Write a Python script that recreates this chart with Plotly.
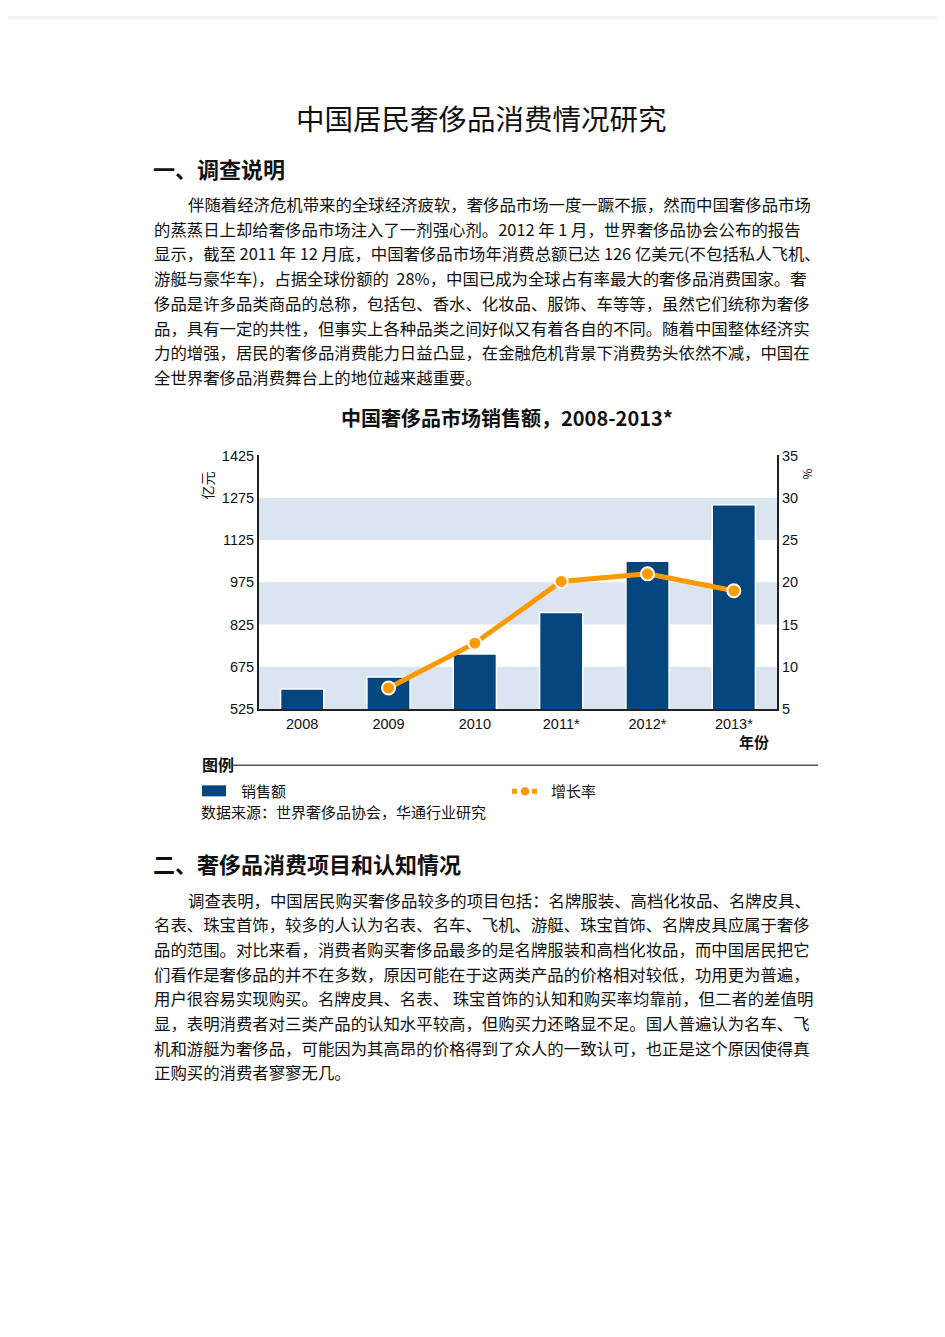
import plotly.graph_objects as go

# page body margin of the browser is 8px, so the figure is drawn inside it
OFF = 8
W, H = 945 - 2 * OFF, 1337 - 2 * OFF

# chart data
years = ["2008", "2009", "2010", "2011*", "2012*", "2013*"]
sales = [596, 639, 721, 868, 1050, 1250]
growth = [None, 7.5, 12.8, 20.1, 21.0, 19.0]
left_ticks = [525, 675, 825, 975, 1125, 1275, 1425]
right_ticks = [5, 10, 15, 20, 25, 30, 35]

page_title = "中国居民奢侈品消费情况研究"
heading1 = "一、调查说明"
para1 = [
    "伴随着经济危机带来的全球经济疲软，奢侈品市场一度一蹶不振，然而中国奢侈品市场",
    "的蒸蒸日上却给奢侈品市场注入了一剂强心剂。2012 年 1 月，世界奢侈品协会公布的报告",
    "显示，截至 2011 年 12 月底，中国奢侈品市场年消费总额已达 126 亿美元(不包括私人飞机、",
    "游艇与豪华车)，占据全球份额的  28%，中国已成为全球占有率最大的奢侈品消费国家。奢",
    "侈品是许多品类商品的总称，包括包、香水、化妆品、服饰、车等等，虽然它们统称为奢侈",
    "品，具有一定的共性，但事实上各种品类之间好似又有着各自的不同。随着中国整体经济实",
    "力的增强，居民的奢侈品消费能力日益凸显，在金融危机背景下消费势头依然不减，中国在",
    "全世界奢侈品消费舞台上的地位越来越重要。",
]
heading2 = "二、奢侈品消费项目和认知情况"
para2 = [
    "调查表明，中国居民购买奢侈品较多的项目包括：名牌服装、高档化妆品、名牌皮具、",
    "名表、珠宝首饰，较多的人认为名表、名车、飞机、游艇、珠宝首饰、名牌皮具应属于奢侈",
    "品的范围。对比来看，消费者购买奢侈品最多的是名牌服装和高档化妆品，而中国居民把它",
    "们看作是奢侈品的并不在多数，原因可能在于这两类产品的价格相对较低，功用更为普遍，",
    "用户很容易实现购买。名牌皮具、名表、 珠宝首饰的认知和购买率均靠前，但二者的差值明",
    "显，表明消费者对三类产品的认知水平较高，但购买力还略显不足。国人普遍认为名车、飞",
    "机和游艇为奢侈品，可能因为其高昂的价格得到了众人的一致认可，也正是这个原因使得真",
    "正购买的消费者寥寥无几。",
]

FONT = "Noto Sans CJK SC"
NAVY = "#05467e"
ORANGE = "#ff9900"
BAND = "#dbe5f1"


def px(x):
    return (x - OFF) / W


def py(y):
    # small vertical correction measured from the previous render
    y = (y - 10.8) / 0.9853
    return 1 - (y - OFF) / H


L, R, T, B = 259, 777, 457, 710

fig = go.Figure()

fig.add_trace(go.Bar(
    x=years, y=sales, name="销售额",
    marker=dict(color=NAVY, line=dict(color="white", width=1.5)),
    width=0.5, showlegend=False,
))
fig.add_trace(go.Scatter(
    x=years, y=growth, name="增长率", yaxis="y2",
    mode="lines+markers",
    line=dict(color=ORANGE, width=5),
    marker=dict(color=ORANGE, size=13, line=dict(color="white", width=2)),
    showlegend=False,
))

shapes = [
    # grey strip above the page
    dict(type="rect", xref="paper", yref="paper", x0=0, x1=1, y0=py(22), y1=1,
         fillcolor="#f3f3f3", line_width=0, layer="below"),
]
# alternating horizontal bands
for i in range(0, len(left_ticks) - 1, 2):
    shapes.append(dict(type="rect", xref="paper", yref="y",
                       x0=px(L), x1=px(R), y0=left_ticks[i], y1=left_ticks[i + 1],
                       fillcolor=BAND, line_width=0, layer="below"))
# legend rule
shapes.append(dict(type="line", xref="paper", yref="paper",
                   x0=px(233), x1=px(818), y0=py(766), y1=py(766),
                   line=dict(color="#555", width=1.5)))
# legend swatches
shapes.append(dict(type="rect", xref="paper", yref="paper",
                   x0=px(202), x1=px(226), y0=py(797), y1=py(786),
                   fillcolor=NAVY, line_width=0))
shapes.append(dict(type="line", xref="paper", yref="paper",
                   x0=px(512), x1=px(538), y0=py(792), y1=py(792),
                   line=dict(color=ORANGE, width=5, dash="dot")))
shapes.append(dict(type="circle", xref="paper", yref="paper",
                   x0=px(520), x1=px(530), y0=py(797), y1=py(787),
                   fillcolor=ORANGE, line=dict(color="white", width=1.5)))

ann = []


def text(x, y, s, size=16, bold=False, anchor="left", color="#111", angle=0):
    ann.append(dict(
        x=px(x), y=py(y), xref="paper", yref="paper", text=f"<b>{s}</b>" if bold else s,
        showarrow=False, xanchor=anchor, yanchor="middle", textangle=angle,
        font=dict(family=FONT, size=size, color=color),
    ))


text(482, 120, page_title, size=28.5, anchor="center")
text(151, 170, heading1, size=22, bold=True)
for i, line in enumerate(para1):
    text(186 if i == 0 else 152, 206 + i * 24.7, line, size=16.4)

text(507, 419, "中国奢侈品市场销售额，2008-2013*", size=20, bold=True, anchor="center")
text(207, 487, "亿元", size=14, angle=-90, anchor="center")
text(808, 475, "%", size=12, angle=90, anchor="center")
text(754, 742, "年份", size=15, bold=True, anchor="center")
text(200, 765, "图例", size=16, bold=True)
text(239, 791, "销售额", size=15)
text(549, 791, "增长率", size=15)
text(199, 812, "数据来源：世界奢侈品协会，华通行业研究", size=15)

text(151, 863, heading2, size=22, bold=True)
for i, line in enumerate(para2):
    text(186 if i == 0 else 152, 900 + i * 24.6, line, size=16.4)

tick_font = dict(family="Liberation Sans", size=14.5, color="#111")

fig.update_layout(
    width=W, height=H,
    margin=dict(l=0, r=0, t=0, b=0),
    paper_bgcolor="white", plot_bgcolor="rgba(0,0,0,0)",
    showlegend=False,
    xaxis=dict(
        domain=[px(L), px(R)], anchor="y",
        showgrid=False, showline=True, linecolor="#222", linewidth=2,
        ticks="", tickfont=tick_font, fixedrange=True,
    ),
    yaxis=dict(
        domain=[py(B), py(T)], range=[525, 1425],
        tickvals=left_ticks, showgrid=False, zeroline=False,
        showline=True, linecolor="#222", linewidth=2,
        ticks="", tickfont=tick_font,
    ),
    yaxis2=dict(
        overlaying="y", side="right", anchor="x", range=[5, 35],
        tickvals=right_ticks, showgrid=False, zeroline=False,
        showline=True, linecolor="#222", linewidth=2,
        ticks="", tickfont=tick_font,
    ),
    shapes=shapes,
    annotations=ann,
)

fig.write_html("out.html")
